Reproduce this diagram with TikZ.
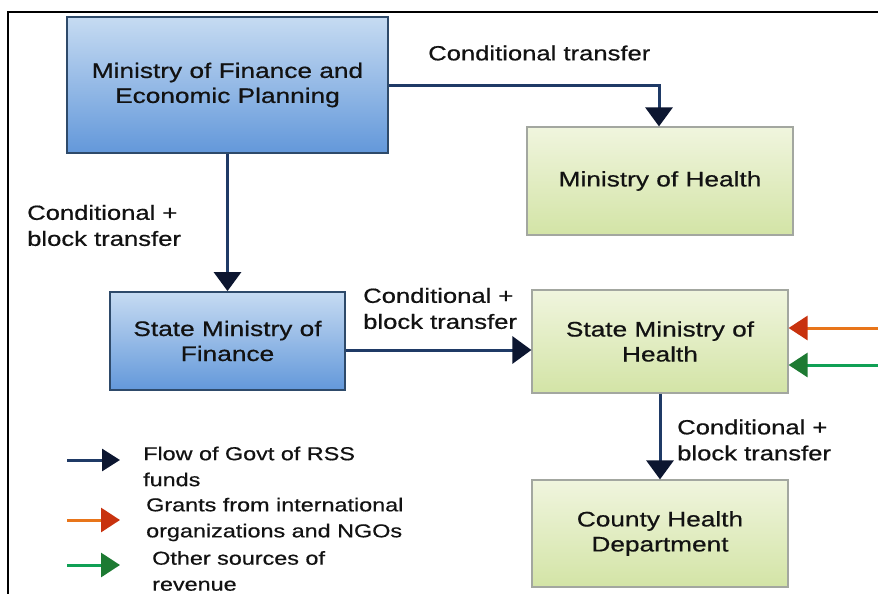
\documentclass[tikz,border=0pt]{standalone}
\usepackage{fontspec}
\setmainfont{Liberation Sans}[FakeStretch=1.25, FakeBold=0.6]
\usetikzlibrary{arrows.meta}

\definecolor{navy}{HTML}{1F3A66}
\definecolor{headnavy}{HTML}{0C1630}
\definecolor{blueTop}{HTML}{C6DBF2}
\definecolor{blueBot}{HTML}{6398DA}
\definecolor{blueEdge}{HTML}{2E4A6A}
\definecolor{greenTop}{HTML}{F0F5DE}
\definecolor{greenBot}{HTML}{D3E4A6}
\definecolor{greenEdge}{HTML}{A3A7A0}
\definecolor{grantLine}{HTML}{E8751A}
\definecolor{grantHead}{HTML}{C8320E}
\definecolor{otherLine}{HTML}{10A055}
\definecolor{otherHead}{HTML}{1D7A32}
\definecolor{ink}{HTML}{121212}

\tikzset{
  bluebox/.style={draw=blueEdge, line width=1.8pt, top color=blueTop, bottom color=blueBot,
    align=center, text=ink, font=\fontsize{21}{25}\selectfont, inner sep=0pt},
  greenbox/.style={draw=greenEdge, line width=1.2pt, top color=greenTop, bottom color=greenBot,
    align=center, text=ink, font=\fontsize{21}{25}\selectfont, inner sep=0pt},
  flow/.style={draw=navy, line width=3pt,
    -{Triangle[width=27pt,length=19pt,fill=headnavy,color=headnavy]}},
  keyflow/.style={draw=navy, line width=3pt,
    -{Triangle[width=22pt,length=18pt,fill=headnavy,color=headnavy]}},
  grant/.style={draw=grantLine, line width=3pt,
    -{Triangle[width=24pt,length=19pt,fill=grantHead,color=grantHead]}},
  other/.style={draw=otherLine, line width=3pt,
    -{Triangle[width=24pt,length=19pt,fill=otherHead,color=otherHead]}},
  flowlabel/.style={anchor=west, align=left, text=ink, inner sep=0pt,
    font=\fontsize{20.5}{26}\selectfont},
  keylabel/.style={anchor=west, align=left, text=ink, inner sep=0pt,
    font=\fontsize{18.7}{26}\selectfont},
}

\begin{document}
\begin{tikzpicture}[x=1pt, y=-1pt]
  \useasboundingbox (0,0) rectangle (878,594);
  \fill[white] (0,0) rectangle (878,594);

  % outer frame, running off the right and bottom edges
  \begin{scope}
    \clip (0,0) rectangle (878,594);
    \draw[black, line width=2pt] (8,12) rectangle (900,620);
  \end{scope}

  % boxes
  \node[bluebox, minimum width=321pt, minimum height=136pt] (mofep) at (227.5,85)
    {Ministry of Finance and\\Economic Planning};
  \node[greenbox, minimum width=266pt, minimum height=108pt] (moh) at (660,181)
    {Ministry of Health};
  \node[bluebox, minimum width=235pt, minimum height=98pt] (smof) at (227.5,341)
    {State Ministry of\\Finance};
  \node[greenbox, minimum width=256pt, minimum height=103pt] (smoh) at (660,341.5)
    {State Ministry of\\Health};
  \node[greenbox, minimum width=256pt, minimum height=107pt] (chd) at (660,533.5)
    {County Health\\Department};

  % connector end points
  \coordinate (bend) at (659,85);
  \coordinate (smofR) at (smof.east |- 0,350);
  \coordinate (smohL) at (smoh.west |- 0,350);
  \coordinate (grantIn) at (880,328);
  \coordinate (otherIn) at (880,365);
  \coordinate (grantEnd) at (smoh.east |- 0,328);
  \coordinate (otherEnd) at (smoh.east |- 0,365);

  % flows
  \draw[flow] (mofep.east |- bend) -- (bend) -- (moh.north -| bend);
  \draw[flow] (mofep.south) -- (smof.north);
  \draw[flow] (smofR) -- (smohL);
  \draw[flow] (smoh.south) -- (chd.north);
  \draw[grant] (grantIn) -- (grantEnd);
  \draw[other] (otherIn) -- (otherEnd);

  % flow labels
  \node[flowlabel] (lblTop) at (428,53) {Conditional transfer};
  \node[flowlabel] (lblLeft) at (27,225.5) {Conditional +\\block transfer};
  \node[flowlabel] (lblMid) at (363,308.5) {Conditional +\\block transfer};
  \node[flowlabel] (lblLow) at (677,440) {Conditional +\\block transfer};

  % key
  \coordinate (k1a) at (67,460);  \coordinate (k1b) at (120,460);
  \coordinate (k2a) at (67,520);  \coordinate (k2b) at (120,520);
  \coordinate (k3a) at (67,565);  \coordinate (k3b) at (120,565);
  \draw[keyflow] (k1a) -- (k1b);
  \draw[grant] (k2a) -- (k2b);
  \draw[other] (k3a) -- (k3b);
  \node[keylabel] (key1) at (143,466.5) {Flow of Govt of RSS\\funds};
  \node[keylabel] (key2) at (146,519.5) {Grants from international\\organizations and NGOs};
  \node[keylabel] (key3) at (152,571) {Other sources of\\revenue};
\end{tikzpicture}
\end{document}
